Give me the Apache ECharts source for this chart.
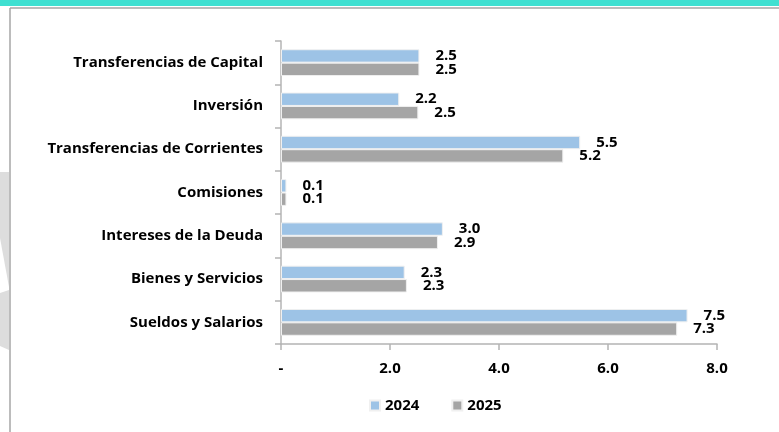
<!DOCTYPE html>
<html>
<head>
<meta charset="utf-8">
<script src="https://cdn.jsdelivr.net/npm/echarts@6/dist/echarts.min.js"></script>
<style>
    html, body { margin: 0; padding: 0; background: #fff; }
    #chart { width: 779px; height: 432px; }
</style>
</head>
<body>
<div id="chart"></div>
<script>
    // categories listed bottom -> top (category axis on y grows upward)
    var categories = ['Sueldos y Salarios', 'Bienes y Servicios', 'Intereses de la Deuda', 'Comisiones',
        'Transferencias de Corrientes', 'Inversión', 'Transferencias de Capital'];
    var values2024 = [7.46, 2.27, 2.97, 0.1, 5.49, 2.17, 2.54];
    var values2025 = [7.27, 2.31, 2.88, 0.1, 5.18, 2.52, 2.54];
    var xTicks = [0, 2, 4, 6, 8];

    var font = '"Open Sans", Lato, sans-serif';

    var chart = echarts.init(document.getElementById('chart'));

    var label = {
        show: true,
        position: 'right',
        distance: 16,
        color: '#000',
        fontWeight: 'bold',
        fontSize: 15,
        fontFamily: font,
        formatter: function (p) { return p.value.toFixed(1); }
    };

    chart.setOption({
        backgroundColor: '#fff',
        animation: false,
        graphic: [
            { type: 'rect', shape: { x: 0, y: 0, width: 779, height: 6 }, style: { fill: '#3FE0D1' } },
            { type: 'polygon', shape: { points: [[0, 172], [9, 172], [9, 287], [0, 238]] }, style: { fill: '#DDDDDD' } },
            { type: 'polygon', shape: { points: [[0, 293], [9, 290], [9, 350], [0, 346]] }, style: { fill: '#DDDDDD' } },
            { type: 'line', shape: { x1: 10, y1: 8, x2: 779, y2: 8 }, style: { stroke: '#A6A6A6', lineWidth: 1.5 } },
            { type: 'line', shape: { x1: 10, y1: 8, x2: 10, y2: 432 }, style: { stroke: '#A6A6A6', lineWidth: 1.5 } }
        ],
        legend: {
            data: ['2024', '2025'],
            top: 393,
            left: 364,
            icon: 'rect',
            itemWidth: 10,
            itemHeight: 10,
            itemGap: 32,
            textStyle: { color: '#000', fontWeight: 'bold', fontSize: 15, fontFamily: font }
        },
        grid: { left: 281, right: 62, top: 41, bottom: 88 },
        xAxis: {
            type: 'value',
            min: xTicks[0],
            max: xTicks[xTicks.length - 1],
            interval: 2,
            splitLine: { show: false },
            axisLine: { show: true, lineStyle: { color: '#B4B4B4', width: 1.5 } },
            axisTick: { show: true, length: 6, lineStyle: { color: '#B4B4B4', width: 1.5 } },
            axisLabel: {
                margin: 17,
                color: '#000',
                fontWeight: 'bold',
                fontSize: 15,
                fontFamily: font,
                formatter: function (v) { return v === 0 ? '-' : v.toFixed(1); }
            }
        },
        yAxis: {
            type: 'category',
            data: categories,
            axisLine: { lineStyle: { color: '#B4B4B4', width: 1.5 } },
            axisTick: { show: true, length: 6, lineStyle: { color: '#B4B4B4', width: 1.5 } },
            axisLabel: {
                margin: 18,
                color: '#000',
                fontWeight: 'bold',
                fontSize: 15,
                fontFamily: font
            }
        },
        series: [
            {
                name: '2024',
                type: 'bar',
                data: values2024,
                barGap: '0%',
                barCategoryGap: '38%',
                itemStyle: { color: '#9DC3E6', borderColor: '#F0F0F0', borderWidth: 1 },
                label: label
            },
            {
                name: '2025',
                type: 'bar',
                data: values2025,
                itemStyle: { color: '#A5A5A5', borderColor: '#F0F0F0', borderWidth: 1 },
                label: label
            }
        ]
    });
</script>
</body>
</html>
